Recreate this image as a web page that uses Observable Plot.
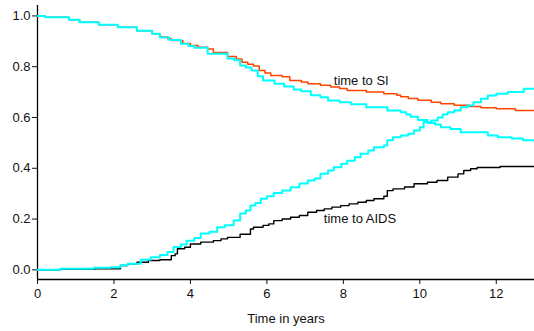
<!DOCTYPE html>
<html>
<head>
<meta charset="utf-8">
<script src="https://cdn.jsdelivr.net/npm/d3@7"></script>
<script src="https://cdn.jsdelivr.net/npm/@observablehq/plot@0.6"></script>
<style>
  html, body { margin: 0; padding: 0; background: #fff; }
  #chart svg { display: block; }
</style>
</head>
<body>
<div id="chart"></div>
<script>
// [time in years, proportion]
const timeToSI = [[0,1.0],[0.2,0.995],[0.82,0.985],[1.1,0.975],[1.6,0.965],[2.1,0.955],[2.6,0.942],[3.0,0.93],[3.2,0.917],[3.4,0.91],[3.5,0.903],[3.8,0.891],[4.0,0.883],[4.2,0.877],[4.45,0.87],[4.6,0.856],[4.97,0.84],[5.2,0.83],[5.35,0.818],[5.5,0.81],[5.65,0.803],[5.8,0.785],[5.95,0.775],[6.1,0.765],[6.4,0.76],[6.6,0.746],[6.9,0.74],[7.07,0.733],[7.4,0.727],[7.67,0.72],[7.9,0.714],[8.1,0.706],[8.6,0.70],[9.06,0.693],[9.4,0.688],[9.5,0.682],[9.7,0.675],[9.95,0.668],[10.3,0.66],[10.55,0.654],[10.9,0.648],[11.3,0.643],[11.6,0.638],[12.0,0.634],[12.5,0.628],[13,0.626]];
const otherFree = [[0,1.0],[0.2,0.995],[0.82,0.985],[1.1,0.975],[1.6,0.965],[2.1,0.955],[2.6,0.942],[3.0,0.93],[3.2,0.915],[3.45,0.905],[3.75,0.89],[3.95,0.882],[4.1,0.875],[4.45,0.851],[4.97,0.832],[5.15,0.825],[5.3,0.805],[5.45,0.797],[5.6,0.785],[5.76,0.762],[5.9,0.746],[6.2,0.733],[6.45,0.722],[6.7,0.71],[6.9,0.703],[7.15,0.688],[7.4,0.68],[7.6,0.667],[7.9,0.66],[8.2,0.652],[8.6,0.64],[9.15,0.628],[9.5,0.621],[9.65,0.612],[9.76,0.603],[9.95,0.59],[10.2,0.578],[10.4,0.572],[10.55,0.562],[10.8,0.555],[11.07,0.542],[11.78,0.529],[12.04,0.522],[12.4,0.517],[12.7,0.51],[13,0.505]];
const otherCum = [[0,0],[0.6,0.004],[1.47,0.008],[1.9,0.01],[2.17,0.018],[2.36,0.024],[2.7,0.04],[2.96,0.05],[3.2,0.058],[3.4,0.07],[3.56,0.09],[3.75,0.1],[3.9,0.115],[4.1,0.125],[4.27,0.143],[4.5,0.15],[4.7,0.168],[4.9,0.176],[5.13,0.194],[5.3,0.222],[5.45,0.234],[5.57,0.253],[5.7,0.263],[5.84,0.28],[6.0,0.29],[6.18,0.303],[6.4,0.312],[6.62,0.325],[6.85,0.34],[7.07,0.352],[7.25,0.36],[7.4,0.378],[7.6,0.391],[7.75,0.404],[7.95,0.418],[8.1,0.43],[8.3,0.443],[8.45,0.457],[8.65,0.47],[8.8,0.483],[9.06,0.49],[9.15,0.51],[9.3,0.522],[9.5,0.529],[9.7,0.536],[9.85,0.549],[10.0,0.562],[10.1,0.582],[10.3,0.588],[10.47,0.6],[10.6,0.612],[10.73,0.621],[10.9,0.628],[11.07,0.64],[11.25,0.647],[11.4,0.66],[11.6,0.674],[11.78,0.687],[12.0,0.693],[12.3,0.70],[12.72,0.713],[13,0.713]];
const timeToAIDS = [[0,0],[0.6,0.002],[1.5,0.004],[2.17,0.017],[2.36,0.024],[2.6,0.03],[2.9,0.037],[3.2,0.04],[3.5,0.056],[3.6,0.063],[3.66,0.083],[3.85,0.089],[4.0,0.102],[4.27,0.109],[4.6,0.115],[4.8,0.122],[4.97,0.128],[5.3,0.14],[5.57,0.161],[5.65,0.168],[5.9,0.175],[6.05,0.181],[6.18,0.194],[6.4,0.20],[6.62,0.207],[6.85,0.214],[7.07,0.227],[7.3,0.234],[7.5,0.24],[7.7,0.247],[7.93,0.253],[8.15,0.26],[8.38,0.266],[8.6,0.273],[8.8,0.28],[9.06,0.29],[9.15,0.312],[9.3,0.319],[9.6,0.326],[9.85,0.339],[10.2,0.345],[10.45,0.352],[10.73,0.365],[11.0,0.378],[11.15,0.391],[11.33,0.398],[11.5,0.403],[12.1,0.407],[13,0.407]];
const xTicks = [0, 2, 4, 6, 8, 10, 12];
const yTicks = [0, 0.2, 0.4, 0.6, 0.8, 1.0];
const curveLabels = [
  {t: 7.75, v: 0.746, text: "time to SI"},
  {t: 7.49, v: 0.202, text: "time to AIDS"}
];
const xTitle = "Time in years";

const font = "'Liberation Sans', Arial, Helvetica, sans-serif";
const chart = Plot.plot({
  width: 534,
  height: 331,
  marginLeft: 37,
  marginRight: 0,
  marginTop: 5,
  marginBottom: 52,
  style: {fontFamily: font, fontSize: "13px", color: "#111", background: "#fff"},
  x: {domain: [0, 13]},
  y: {domain: [-0.038, 1.041]},
  marks: [
    Plot.axisX({ticks: xTicks, tickSize: 5, tickPadding: 4, label: null, fontSize: 13}),
    Plot.axisY({ticks: yTicks, tickSize: 5, tickPadding: 2, tickFormat: d3.format(".1f"), label: null, fontSize: 13}),
    Plot.ruleX([0], {stroke: "#000", strokeWidth: 1.3}),
    Plot.ruleY([-0.038], {stroke: "#000", strokeWidth: 1.3}),
    Plot.line(timeToAIDS, {x: d => d[0], y: d => d[1], curve: "step-after", stroke: "#000", strokeWidth: 1.4}),
    Plot.line(timeToSI, {x: d => d[0], y: d => d[1], curve: "step-after", stroke: "#ff4500", strokeWidth: 1.5}),
    Plot.line(otherFree, {x: d => d[0], y: d => d[1], curve: "step-after", stroke: "#00ffff", strokeWidth: 2}),
    Plot.line(otherCum, {x: d => d[0], y: d => d[1], curve: "step-after", stroke: "#00ffff", strokeWidth: 2}),
    Plot.text(curveLabels, {x: "t", y: "v", text: "text", textAnchor: "start", fontSize: 13, fill: "#111"}),
    Plot.text([xTitle], {frameAnchor: "bottom", dy: 43, fontSize: 13, fill: "#111"})
  ]
});
document.getElementById("chart").appendChild(chart);
</script>
</body>
</html>
